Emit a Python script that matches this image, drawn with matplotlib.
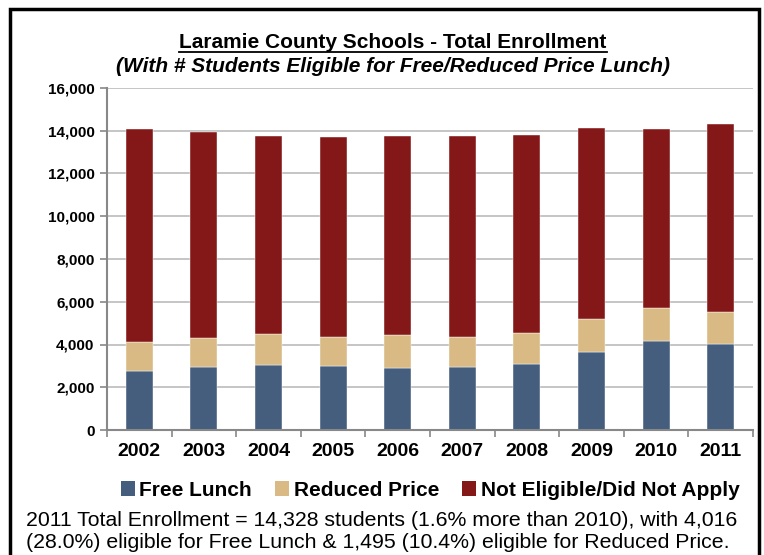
import matplotlib.pyplot as plt
from matplotlib.patches import Patch, Rectangle
import numpy as np

plt.rcParams['font.family'] = ['Liberation Sans', 'DejaVu Sans']

years = ['2002', '2003', '2004', '2005', '2006', '2007', '2008', '2009', '2010', '2011']
free_lunch = [2780, 2930, 3060, 3000, 2920, 2970, 3080, 3650, 4180, 4016]
reduced_price = [1330, 1360, 1420, 1370, 1530, 1370, 1460, 1520, 1530, 1495]
not_eligible = [9950, 9670, 9260, 9320, 9320, 9410, 9280, 8940, 8392, 8817]

series_names = ['Free Lunch', 'Reduced Price', 'Not Eligible/Did Not Apply']
colors = ['#455E7E', '#D9BA84', '#841819']

title = 'Laramie County Schools - Total Enrollment'
subtitle = '(With # Students Eligible for Free/Reduced Price Lunch)'
note_lines = ['2011 Total Enrollment = 14,328 students (1.6% more than 2010), with 4,016',
              '(28.0%) eligible for Free Lunch & 1,495 (10.4%) eligible for Reduced Price.']

W, H = 764, 555
fig = plt.figure(figsize=(W / 100, H / 100), dpi=100)
ax = fig.add_axes([107 / W, 1 - 430 / H, (753 - 107) / W, (430 - 88) / H])

x = np.arange(len(years))
bw = 0.42
bottom = np.zeros(len(years))
for vals, col in zip([free_lunch, reduced_price, not_eligible], colors):
    ax.bar(x, vals, bw, bottom=bottom, color=col, edgecolor='white', linewidth=0.3, zorder=3)
    bottom += np.array(vals)

ax.set_ylim(0, 16000)
ax.set_xlim(-0.5, len(years) - 0.5)
ax.set_yticks(range(0, 16001, 2000))
ax.set_yticklabels([f'{v:,}' for v in range(0, 16001, 2000)], fontsize=11, fontweight='bold')
ax.set_xticks(x)
ax.set_xticklabels(years, fontsize=14, fontweight='bold')
ax.set_xticks(np.arange(-0.5, len(years)), minor=True)
ax.tick_params(axis='x', which='major', length=0, pad=9)
ax.tick_params(axis='x', which='minor', length=5, color='#888888', width=1.2, direction='out')
ax.tick_params(axis='y', length=5, color='#888888', width=1.2, pad=4)
ax.grid(axis='y', color='#C0C0C0', linewidth=1.3, zorder=0)
for s in ['top', 'right']:
    ax.spines[s].set_visible(False)
for s in ['left', 'bottom']:
    ax.spines[s].set_color('#888888')
    ax.spines[s].set_linewidth(1.5)
    ax.spines[s].set_zorder(4)

t = fig.text(393 / W, 1 - 43 / H, title, ha='center', va='center', fontsize=15,
             fontweight='bold')
# underline the title
fig.canvas.draw()
bb = t.get_window_extent()
fig.add_artist(plt.Line2D([bb.x0 / W, bb.x1 / W], [(bb.y0 + 1) / H, (bb.y0 + 1) / H],
                          color='black', linewidth=1.3))
fig.text(393 / W, 1 - 67 / H, subtitle, ha='center', va='center', fontsize=15,
         fontweight='bold', style='italic')

handles = [Patch(facecolor=c, edgecolor='none') for c in colors]
fig.legend(handles, series_names, loc='center', bbox_to_anchor=(430 / W, 1 - 490 / H),
           ncol=3, frameon=False, prop={'weight': 'bold', 'size': 15},
           handlelength=0.7, handleheight=0.7, handletextpad=0.2, columnspacing=1.1)

for i, line in enumerate(note_lines):
    fig.text(26 / W, 1 - (521 + 21 * i) / H, line, ha='left', va='center', fontsize=15.3)

fig.add_artist(Rectangle((10 / W, -0.05), (759 - 10) / W, 1.05 - 8.5 / H,
                         transform=fig.transFigure, fill=False, edgecolor='black', linewidth=2.5))

fig.savefig('out.png', dpi=100)
